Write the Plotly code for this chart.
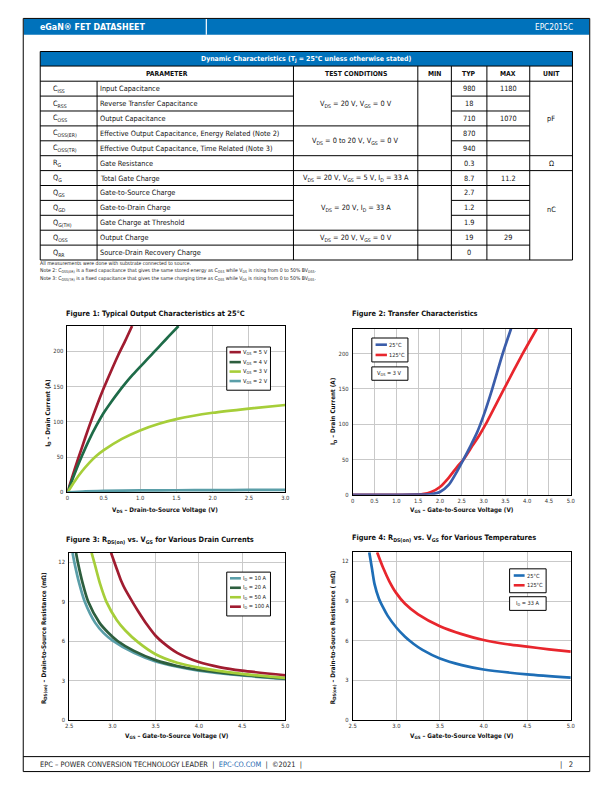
import plotly.graph_objects as go

W, H = 612, 792
FONT = "Noto Sans Condensed, Liberation Sans Narrow, DejaVu Sans Condensed, Roboto, sans-serif"
BLUE = "#0072BB"

# ---------------- data ----------------
symbols = ["C<sub>ISS</sub>", "C<sub>RSS</sub>", "C<sub>OSS</sub>", "C<sub>OSS(ER)</sub>", "C<sub>OSS(TR)</sub>",
           "R<sub>G</sub>", "Q<sub>G</sub>", "Q<sub>GS</sub>", "Q<sub>GD</sub>", "Q<sub>G(TH)</sub>",
           "Q<sub>OSS</sub>", "Q<sub>RR</sub>"]
parameters = ["Input Capacitance", "Reverse Transfer Capacitance", "Output Capacitance",
              "Effective Output Capacitance, Energy Related (Note 2)",
              "Effective Output Capacitance, Time Related (Note 3)", "Gate Resistance",
              "Total Gate Charge", "Gate-to-Source Charge", "Gate-to-Drain Charge",
              "Gate Charge at Threshold", "Output Charge", "Source-Drain Recovery Charge"]
typ_vals = ["980", "18", "710", "870", "940", "0.3", "8.7", "2.7", "1.2", "1.9", "19", "0"]
max_vals = ["1180", "", "1070", "", "", "", "11.2", "", "", "", "29", ""]
test_groups = [(0, 2, "V<sub>DS</sub> = 20 V, V<sub>GS</sub> = 0 V"),
               (3, 4, "V<sub>DS</sub> = 0 to 20 V, V<sub>GS</sub> = 0 V"),
               (5, 5, ""),
               (6, 6, "V<sub>DS</sub> = 20 V, V<sub>GS</sub> = 5 V, I<sub>D</sub> = 33 A"),
               (7, 9, "V<sub>DS</sub> = 20 V, I<sub>D</sub> = 33 A"),
               (10, 10, "V<sub>DS</sub> = 20 V, V<sub>GS</sub> = 0 V"),
               (11, 11, "")]
unit_groups = [(0, 4, "pF"), (5, 5, "Ω"), (6, 11, "nC")]
header_labels = ["PARAMETER", "TEST CONDITIONS", "MIN", "TYP", "MAX", "UNIT"]
notes = ["All measurements were done with substrate connected to source.",
         "Note 2: C<sub>OSS(ER)</sub> is a fixed capacitance that gives the same stored energy as C<sub>OSS</sub> while V<sub>DS</sub> is rising from 0 to 50% BV<sub>DSS</sub>.",
         "Note 3: C<sub>OSS(TR)</sub> is a fixed capacitance that gives the same charging time as C<sub>OSS</sub> while V<sub>DS</sub> is rising from 0 to 50% BV<sub>DSS</sub>."]

# Figure 1: output characteristics (V_DS, I_D)
vds_5v = [0, 0.1, 0.2, 0.3, 0.4, 0.5, 0.6, 0.7, 0.8, 0.89]
id_5v = [0, 33, 64, 94, 122, 148, 172, 195, 216, 236]
vds_4v = [0, 0.1, 0.2, 0.3, 0.4, 0.5, 0.6, 0.7, 0.8, 0.9, 1.0, 1.1, 1.2, 1.3, 1.4, 1.53]
id_4v = [0, 27, 52, 75, 95, 113, 128, 142, 155, 167, 178, 189, 200, 211, 222, 236]
vds_3v = [0, 0.1, 0.2, 0.3, 0.4, 0.5, 0.75, 1.0, 1.25, 1.5, 2.0, 2.5, 3.0]
id_3v = [0, 16, 30, 42, 52, 60, 76, 88, 97, 104, 113, 119, 124]
vds_2v = [0, 0.25, 0.5, 1.0, 1.5, 2.0, 2.5, 3.0]
id_2v = [0, 1.5, 2.2, 2.8, 3.1, 3.3, 3.5, 3.7]
fig1_names = ["V<sub>GS</sub> = 5 V", "V<sub>GS</sub> = 4 V", "V<sub>GS</sub> = 3 V", "V<sub>GS</sub> = 2 V"]
fig1_colors = ["#A01C30", "#1E6B48", "#A6CE39", "#5A9EA8"]

# Figure 2: transfer characteristics (V_GS, I_D)
vgs_25c = [0, 1.0, 1.5, 1.8, 2.0, 2.2, 2.4, 2.54, 2.7, 2.85, 3.0, 3.2, 3.44, 3.63]
id_25c = [0, 0, 0.2, 1, 4, 14, 34, 50, 69, 88, 112, 150, 200, 235]
vgs_125c = [0, 1.0, 1.4, 1.6, 1.8, 2.0, 2.2, 2.4, 2.54, 2.75, 2.9, 3.05, 3.47, 3.9, 4.22]
id_125c = [0, 0, 0.3, 1, 4, 11, 24, 40, 50, 70, 84, 100, 150, 200, 235]
temp_names = ["25°C", "125°C"]
fig2_colors = ["#3B5DAA", "#E8262D"]

# Figure 3: RDS(on) vs VGS, various drain currents
vgs_10a = [2.54, 2.56, 2.62, 2.68, 2.8, 2.9, 3.0, 3.25, 3.5, 3.75, 4.0, 4.5, 5.0]
r_10a = [12.7, 12.0, 10.3, 9.0, 7.4, 6.6, 6.05, 5.1, 4.45, 4.05, 3.75, 3.38, 3.12]
vgs_20a = [2.58, 2.6, 2.66, 2.72, 2.85, 2.95, 3.06, 3.25, 3.5, 3.75, 4.0, 4.5, 5.0]
r_20a = [12.7, 12.0, 10.3, 9.0, 7.4, 6.65, 6.0, 5.25, 4.55, 4.1, 3.8, 3.42, 3.15]
vgs_50a = [2.76, 2.79, 2.86, 2.93, 3.05, 3.15, 3.3, 3.5, 3.75, 4.0, 4.5, 5.0]
r_50a = [12.7, 12.0, 10.3, 9.0, 7.6, 6.8, 5.9, 5.0, 4.35, 3.98, 3.5, 3.2]
vgs_100a = [2.985, 3.05, 3.1, 3.15, 3.23, 3.3, 3.4, 3.5, 3.6, 3.75, 4.0, 4.25, 4.5, 5.0]
r_100a = [12.7, 11.5, 10.6, 9.9, 9.0, 8.25, 7.25, 6.4, 5.8, 5.1, 4.4, 4.0, 3.75, 3.4]
fig3_names = ["I<sub>D</sub> = 10 A", "I<sub>D</sub> = 20 A", "I<sub>D</sub> = 50 A", "I<sub>D</sub> = 100 A"]
fig3_colors = ["#5A9EA8", "#2D5E3E", "#A6CE39", "#A01C30"]

# Figure 4: RDS(on) vs VGS, various temperatures
vgs4_25c = [2.69, 2.72, 2.75, 2.8, 2.85, 2.9, 3.0, 3.1, 3.2, 3.3, 3.5, 3.75, 4.0, 4.5, 5.0]
r4_25c = [12.7, 11.5, 10.3, 9.2, 8.5, 7.9, 7.0, 6.3, 5.75, 5.3, 4.65, 4.15, 3.82, 3.45, 3.2]
vgs4_125c = [2.78, 2.85, 2.92, 3.0, 3.1, 3.25, 3.5, 3.75, 4.0, 4.25, 4.5, 4.75, 5.0]
r4_125c = [12.7, 11.5, 10.5, 9.6, 8.8, 8.0, 7.1, 6.5, 6.05, 5.75, 5.55, 5.35, 5.18]
fig4_colors = ["#1E6EB6", "#E8262D"]

# tick labels
f1_xt = [0, 0.5, 1.0, 1.5, 2.0, 2.5, 3.0]
f1_xl = ["0", "0.5", "1.0", "1.5", "2.0", "2.5", "3.0"]
f1_yt = [0, 50, 100, 150, 200]
f2_xt = [0, 0.5, 1.0, 1.5, 2.0, 2.5, 3.0, 3.5, 4.0, 4.5, 5.0]
f2_xl = ["0", "0.5", "1.0", "1.5", "2.0", "2.5", "3.0", "3.5", "4.0", "4.5", "5.0"]
f34_xt = [2.5, 3.0, 3.5, 4.0, 4.5, 5.0]
f34_xl = ["2.5", "3.0", "3.5", "4.0", "4.5", "5.0"]
f34_yt = [0, 3, 6, 9, 12]

# text sizes
S_BODY = 7.3
S_HEAD = 6.8
S_FIGT = 7.4
S_AXT = 6.3
S_TICK = 5.8
S_LEG = 5.6


# ---------------- helpers ----------------
def px(x):
    return x / W


def py(y):
    return 1 - y / H


shapes = []
annots = []


def hline(x0, x1, y, color="black", w=1):
    shapes.append(dict(type="line", xref="paper", yref="paper", x0=px(x0), x1=px(x1),
                       y0=py(y), y1=py(y), line=dict(color=color, width=w)))


def vline(x, y0, y1, color="black", w=1):
    shapes.append(dict(type="line", xref="paper", yref="paper", x0=px(x), x1=px(x),
                       y0=py(y0), y1=py(y1), line=dict(color=color, width=w)))


def rect(x0, y0, x1, y1, fill=None, line="black", w=1):
    shapes.append(dict(type="rect", xref="paper", yref="paper", x0=px(x0), x1=px(x1),
                       y0=py(y1), y1=py(y0), fillcolor=fill if fill else "rgba(0,0,0,0)",
                       line=dict(color=line, width=w), layer="above"))


def text(x, y, t, size=S_BODY, color="#111", bold=False, xa="center", ya="middle", angle=0):
    if bold:
        t = "<b>" + t + "</b>"
    annots.append(dict(x=px(x), y=py(y), xref="paper", yref="paper", text=t, showarrow=False,
                       font=dict(family=FONT, size=size, color=color), xanchor=xa, yanchor=ya,
                       textangle=angle, borderpad=0, borderwidth=0))


# ---------------- page frame & header ----------------
rect(19.5, 18.5, 593.5, 774.5, line="black", w=1)
shapes.append(dict(type="rect", xref="paper", yref="paper", x0=px(20), x1=px(593), y0=py(35), y1=py(19),
                   fillcolor=BLUE, line=dict(width=0), layer="below"))
vline(205, 19, 35, color="white", w=1.2)
text(36, 27, "eGaN® FET DATASHEET", size=8.8, color="white", bold=True, xa="left")
text(577, 27, "EPC2015C", size=8.2, color="white", xa="right")

# footer
hline(19.5, 593.5, 759.5)
text(36, 767.5, "EPC – POWER CONVERSION TECHNOLOGY LEADER  |  <span style='color:#2468B0'>EPC-CO.COM</span>  |  ©2021  |",
     size=7.4, color="#222", xa="left")
text(577, 767.5, "|   2", size=7.6, color="#222", xa="right")

# ---------------- table ----------------
TL, TR = 36.7, 576
cols = [36.7, 94.3, 293.3, 419.3, 453.3, 489.3, 532.7, 576]
t_top, t_title_b, t_head_b = 51.7, 66.3, 81.5
rh = (261 - t_head_b) / 12
rows_y = [t_head_b + i * rh for i in range(13)]

shapes.append(dict(type="rect", xref="paper", yref="paper", x0=px(TL), x1=px(TR), y0=py(t_title_b), y1=py(t_top),
                   fillcolor=BLUE, line=dict(width=0), layer="below"))
rect(TL, t_top, TR, rows_y[-1])
hline(TL, TR, t_title_b)
hline(TL, TR, t_head_b)
text((TL + TR) / 2, (t_top + t_title_b) / 2, "Dynamic Characteristics (T<sub>J</sub> = 25°C unless otherwise stated)",
     size=6.9, color="white", bold=True)
for c in cols[2:-1]:
    vline(c, t_title_b, rows_y[-1])
vline(cols[1], t_head_b, rows_y[-1])
hdr_x = [(cols[0] + cols[2]) / 2] + [(cols[i] + cols[i + 1]) / 2 for i in range(2, 7)]
for hx, hl in zip(hdr_x, header_labels):
    text(hx, (t_title_b + t_head_b) / 2, hl, size=S_HEAD, color="#111", bold=True)

for i in range(1, 12):
    hline(cols[0], cols[2], rows_y[i])
    hline(cols[4], cols[6], rows_y[i])
group_ends = [g[1] for g in test_groups][:-1]
for e in group_ends:
    hline(cols[2], cols[4], rows_y[e + 1])
for g in unit_groups[:-1]:
    hline(cols[6], cols[7], rows_y[g[1] + 1])

for i in range(12):
    cy = (rows_y[i] + rows_y[i + 1]) / 2
    text(50, cy, symbols[i], xa="left")
    text(97, cy, parameters[i], xa="left")
    text((cols[4] + cols[5]) / 2, cy, typ_vals[i])
    if max_vals[i]:
        text((cols[5] + cols[6]) / 2, cy, max_vals[i])
for a, b, t in test_groups:
    if t:
        text((cols[2] + cols[3]) / 2, (rows_y[a] + rows_y[b + 1]) / 2, t)
unit_y = [118.5, (rows_y[5] + rows_y[6]) / 2, 210.5]
for (a, b, t), uy in zip(unit_groups, unit_y):
    text((cols[6] + cols[7]) / 2, uy, t)

for k, n in enumerate(notes):
    text(36, 264.5 + k * 7.4, n, size=5.1, color="#222", xa="left")

# ---------------- charts ----------------
fig = go.Figure()


def dom_x(a, b):
    return [px(a), px(b)]


def dom_y(top, bottom):
    return [py(bottom), py(top)]


boxes = {
    1: (64.3, 285, 327.3, 494.3),
    2: (353.3, 574.3, 330, 496.7),
    3: (66, 285, 555, 722.7),
    4: (353.3, 574.3, 554.3, 722.7),
}


def add(i, x, y, color):
    fig.add_trace(go.Scatter(x=x, y=y, mode="lines",
                             line=dict(color=color, width=2.7, shape="spline", smoothing=0.7),
                             xaxis="x" if i == 1 else f"x{i}", yaxis="y" if i == 1 else f"y{i}",
                             showlegend=False, hoverinfo="skip"))


for xs, ys, c in zip([vds_5v, vds_4v, vds_3v, vds_2v], [id_5v, id_4v, id_3v, id_2v], fig1_colors):
    add(1, xs, ys, c)
for xs, ys, c in zip([vgs_125c, vgs_25c], [id_125c, id_25c], [fig2_colors[1], fig2_colors[0]]):
    add(2, xs, ys, c)
for xs, ys, c in zip([vgs_10a, vgs_20a, vgs_50a, vgs_100a], [r_10a, r_20a, r_50a, r_100a], fig3_colors):
    add(3, xs, ys, c)
for xs, ys, c in zip([vgs4_25c, vgs4_125c], [r4_25c, r4_125c], fig4_colors):
    add(4, xs, ys, c)

tickfont = dict(family=FONT, size=S_TICK, color="#333")
base = dict(showline=True, linecolor="black", linewidth=1, mirror=True, showgrid=True, gridcolor="#C9C9C9",
            gridwidth=1, zeroline=False, ticks="", tickfont=tickfont, fixedrange=True)

layout_axes = {}
axis_cfg = {
    1: dict(xr=[0, 3], yr=[0, 236], xt=f1_xt, xl=f1_xl, yt=f1_yt),
    2: dict(xr=[0, 5], yr=[0, 235], xt=f2_xt, xl=f2_xl, yt=f1_yt),
    3: dict(xr=[2.5, 5], yr=[0, 12.7], xt=f34_xt, xl=f34_xl, yt=f34_yt),
    4: dict(xr=[2.5, 5], yr=[0, 12.7], xt=f34_xt, xl=f34_xl, yt=f34_yt),
}
for i, cfg in axis_cfg.items():
    l, r, t, b = boxes[i]
    xn = "xaxis" if i == 1 else f"xaxis{i}"
    yn = "yaxis" if i == 1 else f"yaxis{i}"
    xa_ = "x" if i == 1 else f"x{i}"
    ya_ = "y" if i == 1 else f"y{i}"
    layout_axes[xn] = dict(base, domain=dom_x(l, r), range=cfg["xr"], tickvals=cfg["xt"], ticktext=cfg["xl"],
                           anchor=ya_, ticklabelstandoff=0)
    layout_axes[yn] = dict(base, domain=dom_y(t, b), range=cfg["yr"], tickvals=cfg["yt"],
                           ticktext=[str(v) for v in cfg["yt"]], anchor=xa_, ticklabelstandoff=2)

# titles
text(63, 315, "Figure 1: Typical Output Characteristics at 25°C", size=S_FIGT, bold=True, xa="left")
text(353, 315, "Figure 2: Transfer Characteristics", size=S_FIGT, bold=True, xa="left")
text(63, 542.5, "Figure 3: R<sub>DS(on)</sub> vs. V<sub>GS</sub> for Various Drain Currents", size=S_FIGT, bold=True, xa="left")
text(353, 540, "Figure 4: R<sub>DS(on)</sub> vs. V<sub>GS</sub> for Various Temperatures", size=S_FIGT, bold=True, xa="left")

# axis titles
text(163, 511.5, "V<sub>DS</sub> – Drain-to-Source Voltage (V)", size=S_AXT, bold=True)
text(45, 414, "I<sub>D</sub> – Drain Current (A)", size=S_AXT, bold=True, angle=-90)
text(464, 512, "V<sub>GS</sub> – Gate-to-Source Voltage (V)", size=S_AXT, bold=True)
text(334, 413, "I<sub>D</sub> – Drain Current (A)", size=S_AXT, bold=True, angle=-90)
text(175, 738.5, "V<sub>GS</sub> – Gate-to-Source Voltage (V)", size=S_AXT, bold=True)
text(40, 640, "R<sub>DS(on)</sub> – Drain-to-Source Resistance (mΩ)", size=S_AXT, bold=True, angle=-90)
text(464, 738.5, "V<sub>GS</sub> – Gate-to-Source Voltage (V)", size=S_AXT, bold=True)
text(333, 640, "R<sub>DS(on)</sub> – Drain-to-Source Resistance ( mΩ)", size=S_AXT, bold=True, angle=-90)


# legends (manual boxes)
def legend(x0, x1, y0, y1, items, colors, sx0, sx1, tx, ys):
    rect(x0, y0, x1, y1, fill="white")
    for (lab, c, yy) in zip(items, colors, ys):
        hline(sx0, sx1, yy, color=c, w=2.6)
        text(tx, yy, lab, size=S_LEG, color="#222", xa="left")


legend(225.7, 270, 348.3, 391.7, fig1_names, ["#9B1B30", "#2D5E3E", "#A6CE39", "#5A9EA8"],
       228.5, 240, 242.5, [353.5, 363.5, 373, 382.5])
legend(372.7, 409.3, 339.3, 363.3, temp_names, fig2_colors, 376.5, 388, 390, [346, 356.3])
rect(372.7, 368.3, 409.3, 381.7, fill="white")
text(391, 375, "V<sub>DS</sub> = 3 V", size=S_LEG, color="#222")
legend(225.7, 270, 574.3, 618.3, fig3_names, fig3_colors, 229, 240, 242.5, [580.5, 590, 599.5, 609])
legend(512.3, 549.3, 571, 595, temp_names, fig4_colors, 516.5, 527.5, 529.5, [577.7, 587.5])
rect(512.3, 599, 549.3, 612.7, fill="white")
text(531, 606, "I<sub>D</sub> = 33 A", size=S_LEG, color="#222")

fig.update_layout(width=W, height=H, margin=dict(l=0, r=0, t=0, b=0), paper_bgcolor="white",
                  plot_bgcolor="white", showlegend=False, shapes=shapes, annotations=annots,
                  font=dict(family=FONT), **layout_axes)

fig.write_html("out.html", config={"displayModeBar": False, "staticPlot": True},
               post_script="document.body.style.margin='0';document.body.style.overflow='hidden';")
